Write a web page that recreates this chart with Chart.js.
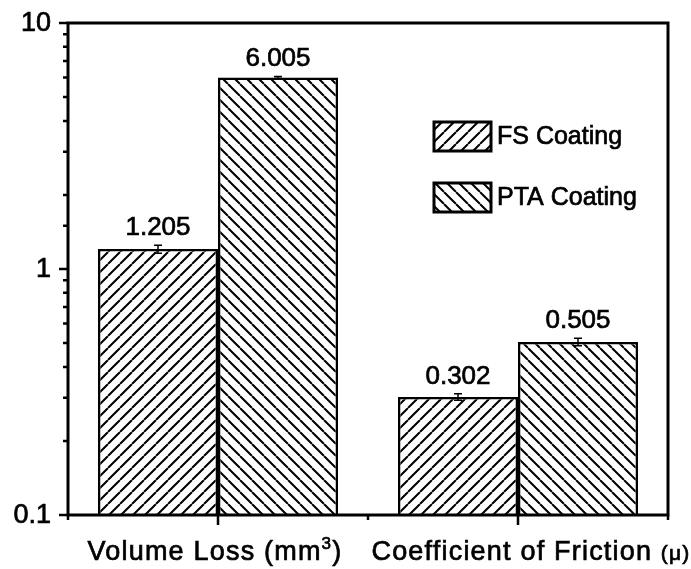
<!DOCTYPE html>
<html>
<head>
<meta charset="utf-8">
<script src="https://cdn.jsdelivr.net/npm/chart.js@4.4.1/dist/chart.umd.min.js"></script>
<style>
  html, body { margin: 0; padding: 0; background: #fff; }
  #wrap { width: 691px; height: 569px; }
</style>
</head>
<body>
<div id="wrap"><canvas id="myChart" width="691" height="569"></canvas></div>
<script>
// data
const categories = ['Volume Loss', 'Coefficient of Friction'];
const units = ['(mm\u00B3)', '(\u03BC)'];
const seriesNames = ['FS Coating', 'PTA Coating'];
const fsValues = [1.205, 0.302];
const ptaValues = [6.005, 0.505];
const fsErrors = [0.045, 0.009];
const ptaErrors = [0.06, 0.018];
const yTickLabels = [0.1, 1, 10];

const FONT = "'Liberation Sans', Arial, sans-serif";

function hatch(dir) {
    const s = 12;
    const c = document.createElement('canvas');
    c.width = s; c.height = s;
    const g = c.getContext('2d');
    g.fillStyle = '#fff';
    g.fillRect(0, 0, s, s);
    g.strokeStyle = '#000';
    g.lineWidth = 2;
    g.beginPath();
    for (let k = 0; k < 3; k++) {
        if (dir === '/') {
            g.moveTo(k * s - s, s); g.lineTo(k * s, 0);
        } else {
            g.moveTo(k * s - s, 0); g.lineTo(k * s, s);
        }
    }
    g.stroke();
    return document.getElementById('myChart').getContext('2d').createPattern(c, 'repeat');
}

const fsPattern = hatch('/');
const ptaPattern = hatch('\\');
const errors = [fsErrors, ptaErrors];

// text a bit heavier than regular, like the figure
function heavyText(ctx, txt, x, y) {
    ctx.fillText(txt, x, y);
    ctx.lineWidth = 0.7;
    ctx.strokeStyle = '#000';
    ctx.strokeText(txt, x, y);
}

// split a unit like "(mm³)" into pieces: [text, superscript?]
function unitParts(u) {
    const parts = [];
    for (const ch of u) {
        const sup = ch === '\u00B3';
        const t = sup ? '3' : ch;
        if (parts.length && parts[parts.length - 1][1] === sup) parts[parts.length - 1][0] += t;
        else parts.push([t, sup]);
    }
    return parts;
}

const labelShift = [-3, 13];

const decor = {
    id: 'decor',
    afterDatasetsDraw(chart) {
        const ctx = chart.ctx;
        const y = chart.scales.y;
        ctx.save();
        // error bars and value labels
        chart.data.datasets.forEach((ds, di) => {
            const meta = chart.getDatasetMeta(di);
            meta.data.forEach((bar, i) => {
                const v = ds.data[i], e = errors[di][i];
                const yt = y.getPixelForValue(v + e), yb = y.getPixelForValue(v - e);
                ctx.strokeStyle = '#000';
                ctx.lineWidth = 1.5;
                ctx.beginPath();
                ctx.moveTo(bar.x, yt); ctx.lineTo(bar.x, yb);
                ctx.moveTo(bar.x - 4, yt); ctx.lineTo(bar.x + 4, yt);
                ctx.moveTo(bar.x - 4, yb); ctx.lineTo(bar.x + 4, yb);
                ctx.stroke();
                ctx.fillStyle = '#000';
                ctx.font = '26px ' + FONT;
                ctx.textAlign = 'center';
                ctx.textBaseline = 'alphabetic';
                heavyText(ctx, v.toFixed(3), bar.x, yt - 10);
            });
        });
        ctx.restore();
    },
    afterDraw(chart) {
        const ctx = chart.ctx;
        const a = chart.chartArea;
        const x = chart.scales.x, y = chart.scales.y;
        ctx.save();
        ctx.strokeStyle = '#000';
        ctx.lineWidth = 3;
        ctx.strokeRect(a.left, a.top, a.right - a.left, a.bottom - a.top);
        // y ticks
        ctx.lineWidth = 2.5;
        ctx.beginPath();
        y.ticks.forEach(t => {
            const p = y.getPixelForValue(t.value);
            const major = Math.abs(Math.log10(t.value) - Math.round(Math.log10(t.value))) < 1e-6;
            ctx.moveTo(a.left, p); ctx.lineTo(a.left - (major ? 9 : 5), p);
        });
        // x ticks
        const half = (x.getPixelForValue(1) - x.getPixelForValue(0)) / 2;
        categories.forEach((c, i) => {
            const p = x.getPixelForValue(i);
            ctx.moveTo(p, a.bottom); ctx.lineTo(p, a.bottom + 10);
            ctx.moveTo(p - half, a.bottom); ctx.lineTo(p - half, a.bottom + 5);
            ctx.moveTo(p + half, a.bottom); ctx.lineTo(p + half, a.bottom + 5);
        });
        ctx.stroke();
        // y tick labels
        ctx.fillStyle = '#000';
        ctx.font = '27px ' + FONT;
        ctx.textAlign = 'right';
        ctx.textBaseline = 'middle';
        yTickLabels.forEach(v => {
            heavyText(ctx, String(v), a.left - 17, y.getPixelForValue(v) + 1);
        });
        // category labels
        ctx.textBaseline = 'alphabetic';
        ctx.textAlign = 'left';
        ctx.letterSpacing = '1.2px';
        const base = a.bottom + 45;
        categories.forEach((c, i) => {
            const unitSize = i === 0 ? 27 : 21;
            const pieces = [[c + ' ', 27, 0]];
            unitParts(units[i]).forEach(([t, sup]) => {
                pieces.push(sup ? [t, 17, -11] : [t, unitSize, 0]);
            });
            let total = 0;
            pieces.forEach(pc => {
                ctx.font = pc[1] + 'px ' + FONT;
                pc.push(ctx.measureText(pc[0]).width);
                total += pc[3];
            });
            let sx = x.getPixelForValue(i) - total / 2 + labelShift[i];
            pieces.forEach(pc => {
                ctx.font = pc[1] + 'px ' + FONT;
                heavyText(ctx, pc[0], sx, base + pc[2]);
                sx += pc[3];
            });
        });
        ctx.letterSpacing = '0px';
        // legend
        chart.data.datasets.forEach((ds, di) => {
            const bx = 434, by = 122 + di * 61;
            ctx.fillStyle = ds.backgroundColor;
            ctx.fillRect(bx, by, 57, 29);
            ctx.lineWidth = 3;
            ctx.strokeRect(bx, by, 57, 29);
            ctx.fillStyle = '#000';
            ctx.font = '25px ' + FONT;
            ctx.textBaseline = 'middle';
            heavyText(ctx, ds.label, bx + 63, by + 15);
        });
        ctx.restore();
    }
};

const ctx = document.getElementById('myChart');
const myChart = new Chart(ctx, {
    type: 'bar',
    data: {
        labels: categories,
        datasets: [{
            label: seriesNames[0],
            data: fsValues,
            backgroundColor: fsPattern,
            borderColor: '#000',
            borderWidth: 2.5
        }, {
            label: seriesNames[1],
            data: ptaValues,
            backgroundColor: ptaPattern,
            borderColor: '#000',
            borderWidth: 2.5
        }]
    },
    options: {
        responsive: false,
        animation: false,
        layout: { padding: { left: 0, top: 23, right: 23, bottom: 0 } },
        plugins: { legend: { display: false }, tooltip: { enabled: false } },
        datasets: { bar: { barPercentage: 1, categoryPercentage: 0.8 } },
        scales: {
            x: {
                grid: { display: false },
                border: { display: false },
                ticks: { display: false },
                afterFit(s) { s.height = 54; }
            },
            y: {
                type: 'logarithmic',
                min: 0.1,
                max: 10,
                grid: { display: false },
                border: { display: false },
                ticks: { display: false },
                afterFit(s) { s.width = 68; }
            }
        }
    },
    plugins: [decor]
});
</script>
</body>
</html>
